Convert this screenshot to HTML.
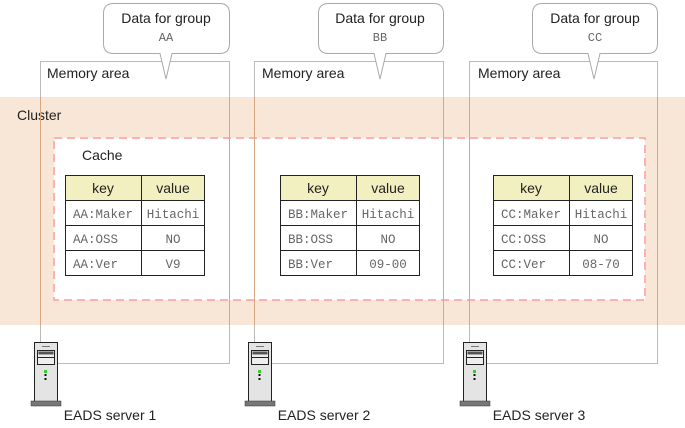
<!DOCTYPE html>
<html><head><style>
html,body{margin:0;padding:0;background:#fff;}
svg{display:block;}
.s{font-family:"Liberation Sans",sans-serif;fill:#222;}
.m{font-family:"Liberation Mono",monospace;fill:#666;}
</style></head><body>
<svg width="685" height="428" viewBox="0 0 685 428" xmlns="http://www.w3.org/2000/svg">
<rect x="0" y="97" width="685" height="228" fill="#f8e6d6"/>
<rect x="54" y="138" width="591" height="162" fill="#fff" stroke="#ffb0b0" stroke-width="2" stroke-dasharray="8,5"/>
<text class="s" x="17" y="120" font-size="14">Cluster</text>
<text class="s" x="82" y="160" font-size="14">Cache</text>

<g fill="none" stroke="#bbb" stroke-width="1">
<path d="M40.5 342V61.5H229.5V363.5H58"/>
<path d="M254.5 342V61.5H443.5V363.5H272"/>
<path d="M469.5 342V61.5H657.5V363.5H487"/>
</g>
<g stroke="#dba77f" stroke-width="1">
<line x1="40.5" y1="97" x2="40.5" y2="325"/><line x1="229.5" y1="97" x2="229.5" y2="325"/>
<line x1="254.5" y1="97" x2="254.5" y2="325"/><line x1="443.5" y1="97" x2="443.5" y2="325"/>
<line x1="469.5" y1="97" x2="469.5" y2="325"/><line x1="657.5" y1="97" x2="657.5" y2="325"/>
</g>
<text class="s" x="47" y="78" font-size="14">Memory area</text>
<text class="s" x="262" y="78" font-size="14">Memory area</text>
<text class="s" x="478" y="78" font-size="14">Memory area</text>

<g fill="#fff" stroke="#aaa" stroke-width="1">
<path d="M113.5 3.5H219.5Q229.5 3.5 229.5 13.5V43.5Q229.5 53.5 219.5 53.5H172L166 79L160 53.5H113.5Q103.5 53.5 103.5 43.5V13.5Q103.5 3.5 113.5 3.5Z"/>
<path d="M328.5 3.5H433.5Q443.5 3.5 443.5 13.5V43.5Q443.5 53.5 433.5 53.5H386L380 79L374 53.5H328.5Q318.5 53.5 318.5 43.5V13.5Q318.5 3.5 328.5 3.5Z"/>
<path d="M542.5 3.5H647.5Q657.5 3.5 657.5 13.5V43.5Q657.5 53.5 647.5 53.5H600L594 79L588 53.5H542.5Q532.5 53.5 532.5 43.5V13.5Q532.5 3.5 542.5 3.5Z"/>
</g>
<g text-anchor="middle">
<text class="s" x="166" y="23" font-size="14">Data for group</text>
<text class="m" x="166" y="41" font-size="12">AA</text>
<text class="s" x="380" y="23" font-size="14">Data for group</text>
<text class="m" x="380" y="41" font-size="12">BB</text>
<text class="s" x="595" y="23" font-size="14">Data for group</text>
<text class="m" x="595" y="41" font-size="12">CC</text>
</g>

<defs>
<g id="tbl">
<rect x="0.5" y="0.5" width="139" height="25" fill="#f2f0c0"/>
<rect x="0.5" y="0.5" width="139" height="100" fill="none" stroke="#222"/>
<g stroke="#222"><line x1="76.5" y1="0" x2="76.5" y2="100"/><line x1="0" y1="25.5" x2="140" y2="25.5"/><line x1="0" y1="50.5" x2="140" y2="50.5"/><line x1="0" y1="75.5" x2="140" y2="75.5"/></g>
<text class="s" x="38" y="18" font-size="14" text-anchor="middle">key</text>
<text class="s" x="108" y="18" font-size="14" text-anchor="middle">value</text>
</g>
</defs>
<use href="#tbl" x="65" y="175"/>
<use href="#tbl" x="280" y="175"/>
<use href="#tbl" x="493" y="175"/>
<g font-size="12.5">
<text class="m" x="73" y="218">AA:Maker</text>
<text class="m" x="73" y="243">AA:OSS</text>
<text class="m" x="73" y="268">AA:Ver</text>
<text class="m" x="173" y="218" text-anchor="middle">Hitachi</text>
<text class="m" x="173" y="243" text-anchor="middle">NO</text>
<text class="m" x="173" y="268" text-anchor="middle">V9</text>
<text class="m" x="288" y="218">BB:Maker</text>
<text class="m" x="288" y="243">BB:OSS</text>
<text class="m" x="288" y="268">BB:Ver</text>
<text class="m" x="388" y="218" text-anchor="middle">Hitachi</text>
<text class="m" x="388" y="243" text-anchor="middle">NO</text>
<text class="m" x="388" y="268" text-anchor="middle">09-00</text>
<text class="m" x="501" y="218">CC:Maker</text>
<text class="m" x="501" y="243">CC:OSS</text>
<text class="m" x="501" y="268">CC:Ver</text>
<text class="m" x="601" y="218" text-anchor="middle">Hitachi</text>
<text class="m" x="601" y="243" text-anchor="middle">NO</text>
<text class="m" x="601" y="268" text-anchor="middle">08-70</text>
</g>

<defs>
<g id="srv">
<rect x="0.5" y="0.5" width="23" height="59" fill="#e4e4e4" stroke="#222"/>
<line x1="8" y1="4.5" x2="16" y2="4.5" stroke="#777"/>
<rect x="3.5" y="8.5" width="17" height="14" fill="#eee" stroke="#222"/>
<rect x="4.5" y="9.5" width="15" height="3" fill="#555"/>
<line x1="3.5" y1="15.5" x2="20.5" y2="15.5" stroke="#222"/>
<rect x="10" y="28" width="3" height="3" fill="#3c3"/>
<rect x="10.5" y="32" width="2" height="2" fill="#111"/>
<rect x="10.5" y="36" width="2" height="2" fill="#111"/>
<rect x="-3" y="59" width="30" height="5" fill="#777" stroke="#333" stroke-width="0.5"/>
</g>
</defs>
<use href="#srv" x="34" y="342"/>
<use href="#srv" x="248" y="342"/>
<use href="#srv" x="463" y="342"/>
<text class="s" x="110" y="420" font-size="14" text-anchor="middle">EADS server 1</text>
<text class="s" x="324" y="420" font-size="14" text-anchor="middle">EADS server 2</text>
<text class="s" x="539" y="420" font-size="14" text-anchor="middle">EADS server 3</text>
</svg>
</body></html>
